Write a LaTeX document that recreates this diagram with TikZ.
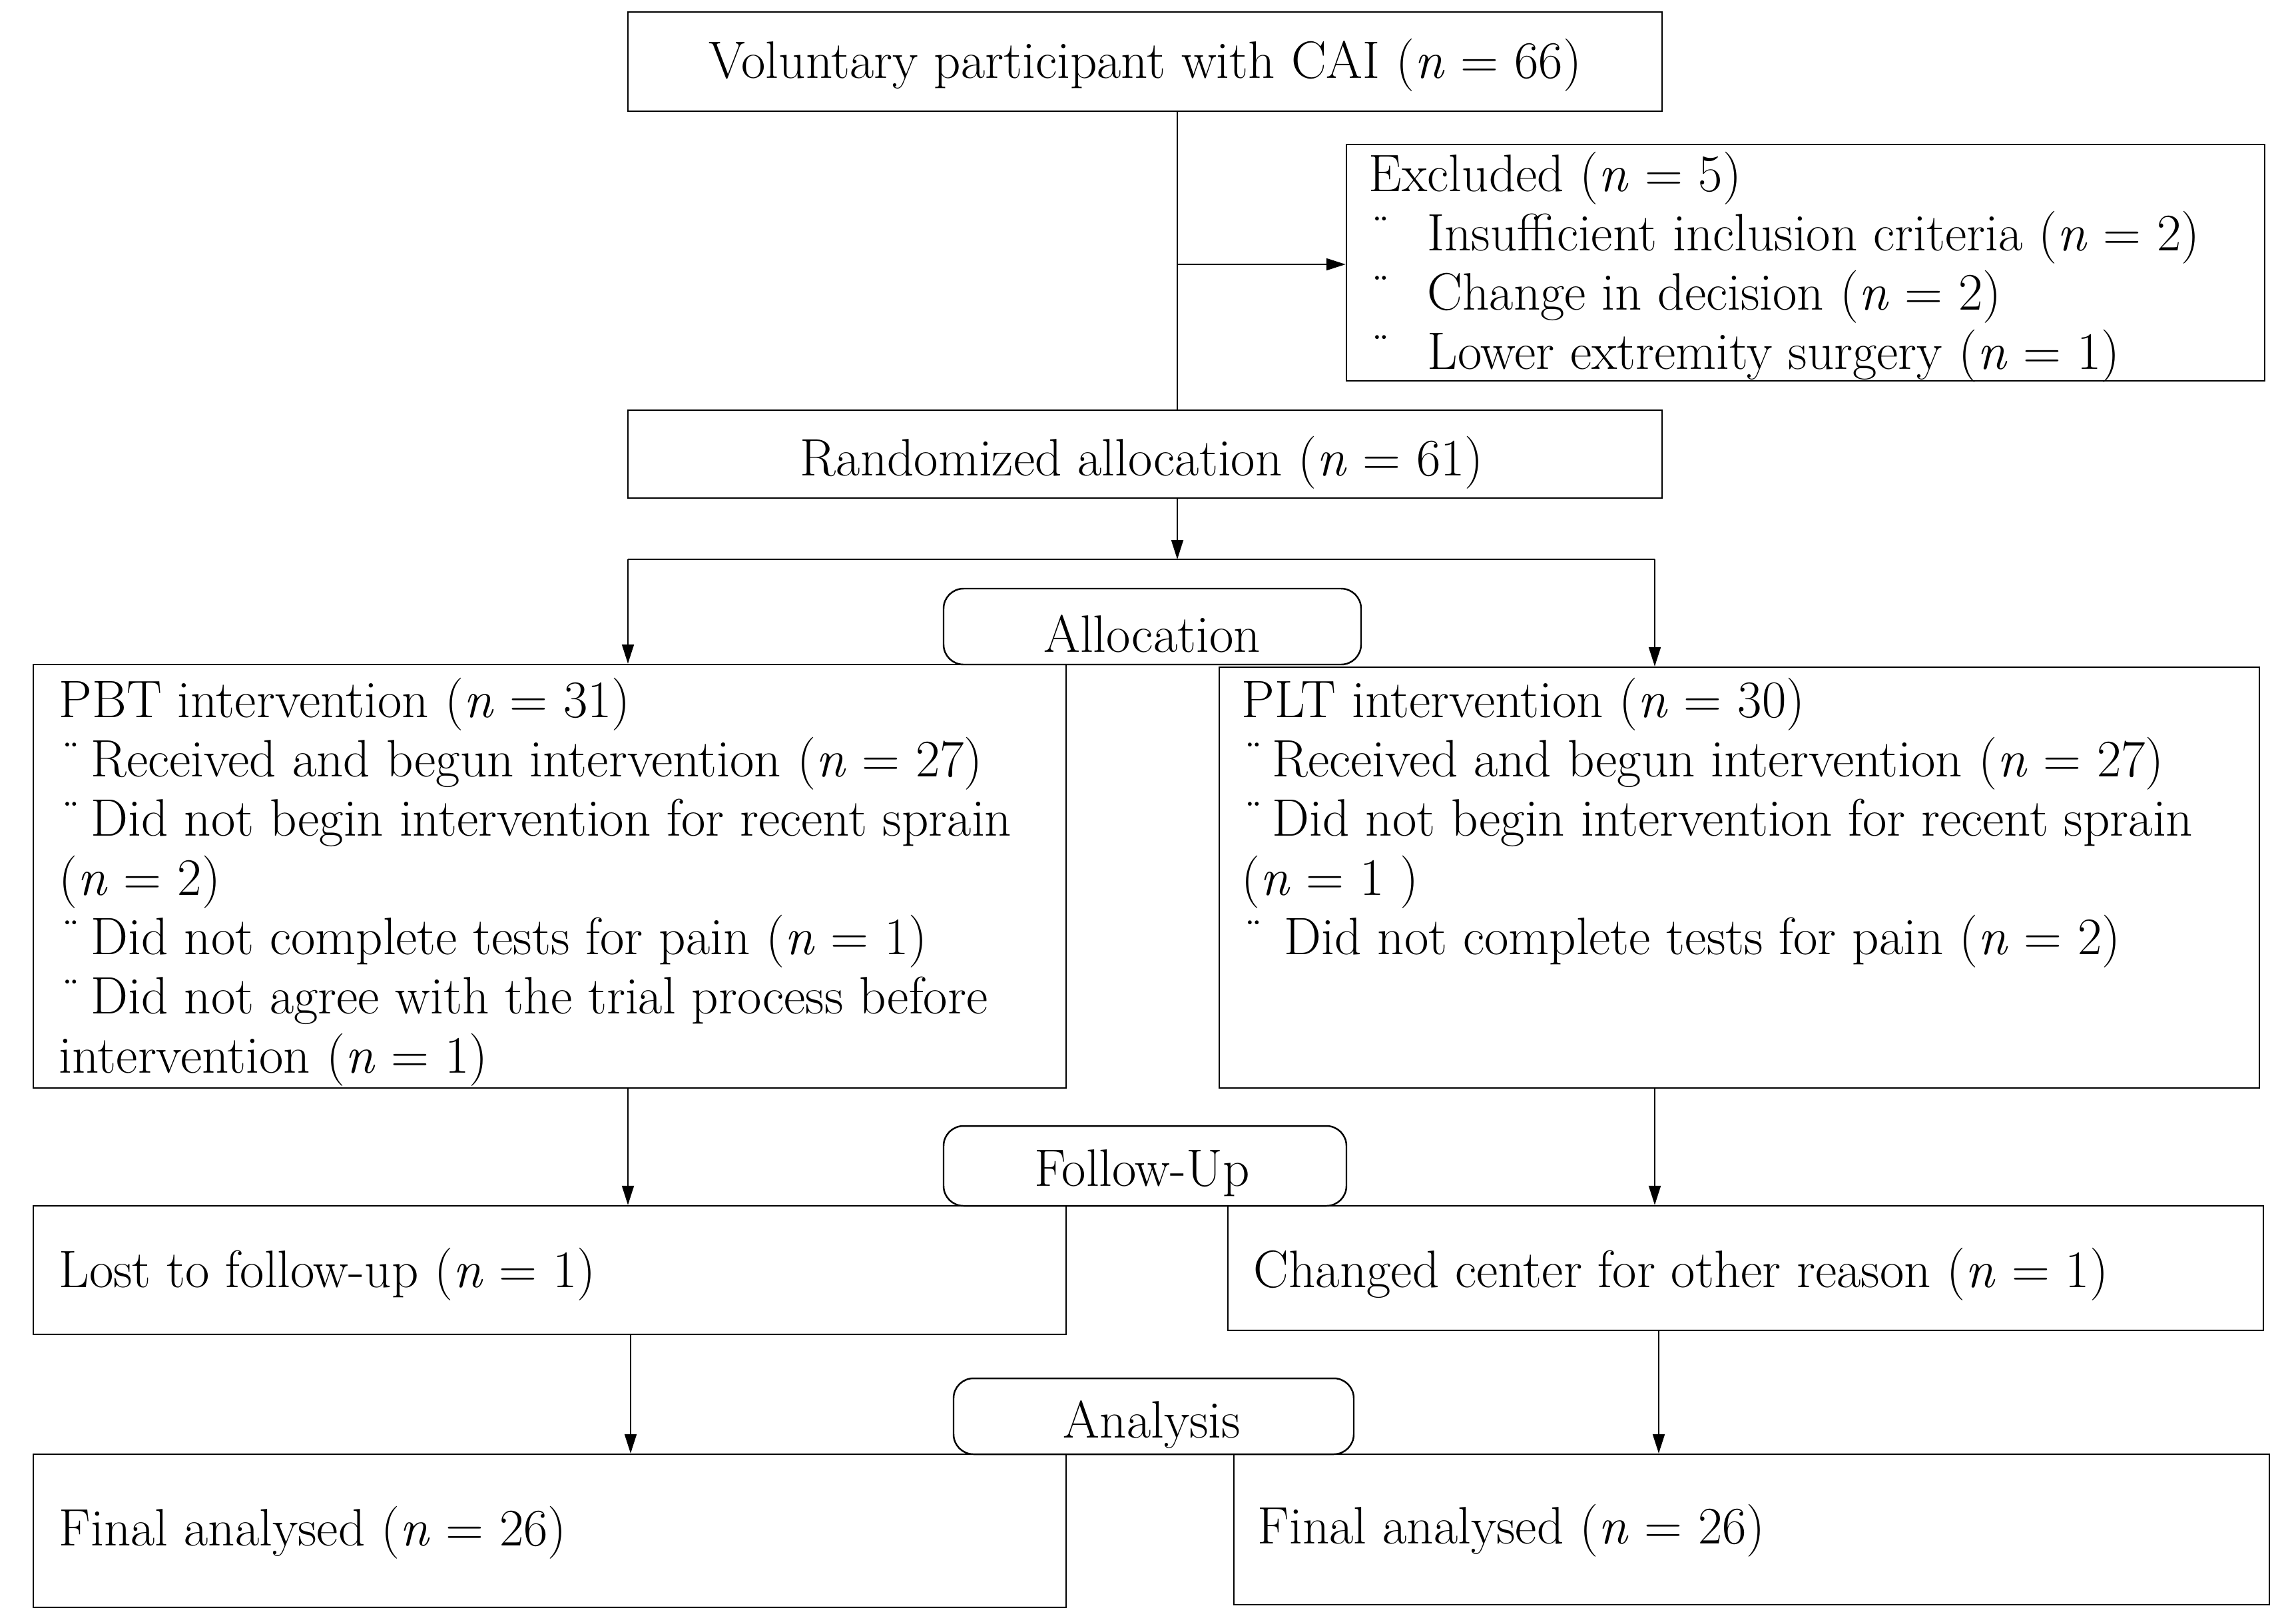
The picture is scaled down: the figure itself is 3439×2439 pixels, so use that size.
\documentclass[tikz,border=0pt]{standalone}
\usetikzlibrary{arrows.meta,fit}
\newcommand{\nvar}{\textit{n}}
\newcommand{\mybul}[1]{\makebox[#1][l]{¨}}
\tikzset{
  box/.style={draw, line width=0.7pt, inner sep=0pt},
  rbox/.style={box, rounded corners=3mm, fill=white},
  lbl/.style={inner sep=0pt, font=\fontsize{22.5}{25.3}\selectfont},
  txt/.style={inner sep=0pt, align=left, anchor=north west, font=\fontsize{22.5}{25.3}\selectfont},
  ln/.style={line width=0.6pt},
  arr/.style={line width=0.6pt, -{Triangle[length=2.9mm,width=1.8mm]}}
}
\begin{document}
\begin{tikzpicture}[x=0.1mm,y=-0.1mm]
\useasboundingbox (0,0) rectangle (3439,2439);
% box corners
\coordinate (t1) at (943,18);   \coordinate (t2) at (2496,167);
\coordinate (e1) at (2022,217); \coordinate (e2) at (3401,572);
\coordinate (r1) at (943,616);  \coordinate (r2) at (2496,748);
\coordinate (a1) at (1417,884); \coordinate (a2) at (2044,998);
\coordinate (p1) at (50,998);   \coordinate (p2) at (1601,1634);
\coordinate (q1) at (1831,1002);\coordinate (q2) at (3393,1634);
\coordinate (f1) at (1417,1691);\coordinate (f2) at (2022,1811);
\coordinate (l1) at (50,1811);  \coordinate (l2) at (1601,2004);
\coordinate (c1) at (1844,1811);\coordinate (c2) at (3399,1998);
\coordinate (n1) at (1432,2070);\coordinate (n2) at (2033,2184);
\coordinate (g1) at (50,2184);  \coordinate (g2) at (1601,2414);
\coordinate (h1) at (1853,2184);\coordinate (h2) at (3408,2410);

\node[rbox, fit=(a1)(a2)] (alloc) {};
\node[rbox, fit=(f1)(f2)] (follow) {};
\node[rbox, fit=(n1)(n2)] (analysis) {};

\node[box, fit=(t1)(t2)] (top) {};
\node[box, fit=(e1)(e2)] (excl) {};
\node[box, fit=(r1)(r2)] (rand) {};
\node[box, fit=(p1)(p2)] (pbt) {};
\node[box, fit=(q1)(q2)] (plt) {};
\node[box, fit=(l1)(l2)] (lost) {};
\node[box, fit=(c1)(c2)] (chg) {};
\node[box, fit=(g1)(g2)] (finl) {};
\node[box, fit=(h1)(h2)] (finr) {};

\node[lbl] (toptxt) at (1720,98) {Voluntary participant with CAI (\nvar{} = 66)};
\node[lbl] (randtxt) at (1715,695) {Randomized allocation (\nvar{} = 61)};
\node[lbl] (alloctxt) at (1730,952) {Allocation};
\node[lbl] (followtxt) at (1715,1762) {Follow-Up};
\node[lbl] (analysistxt) at (1730,2140) {Analysis};

\node[txt] (excltxt) at (2055,228) {Excluded (\nvar{} = 5)\\
\mybul{8.8mm}Insufficient inclusion criteria (\nvar{} = 2)\\
\mybul{8.8mm}Change in decision (\nvar{} = 2)\\
\mybul{8.8mm}Lower extremity surgery (\nvar{} = 1)};

\node[txt] (pbttxt) at (88,1018) {PBT intervention (\nvar{} = 31)\\
\mybul{4.8mm}Received and begun intervention (\nvar{} = 27)\\
\mybul{4.8mm}Did not begin intervention for recent sprain\\
(\nvar{} = 2)\\
\mybul{4.8mm}Did not complete tests for pain (\nvar{} = 1)\\
\mybul{4.8mm}Did not agree with the trial process before\\
intervention (\nvar{} = 1)};

\node[txt] (plttxt) at (1864,1018) {PLT intervention (\nvar{} = 30)\\
\mybul{4.6mm}Received and begun intervention (\nvar{} = 27)\\
\mybul{4.6mm}Did not begin intervention for recent sprain\\
(\nvar{} = 1 )\\
\mybul{6.4mm}Did not complete tests for pain (\nvar{} = 2)};

\node[txt, anchor=west] (losttxt) at (88,1914) {Lost to follow-up (\nvar{} = 1)};
\node[txt, anchor=west] (chgtxt) at (1882,1914) {Changed center for other reason (\nvar{} = 1)};
\node[txt, anchor=west] (finltxt) at (88,2302) {Final analysed (\nvar{} = 26)};
\node[txt, anchor=west] (finrtxt) at (1888,2299) {Final analysed (\nvar{} = 26)};

% connectors
\coordinate (split) at (1768,397);
\coordinate (hub) at (1768,840);
\coordinate (hl) at (943,840);
\coordinate (hr) at (2485,840);
\draw[ln] (top.south -| split) -- (rand.north -| split);
\draw[arr] (split) -- (split -| excl.west);
\draw[arr] (rand.south -| hub) -- (hub);
\draw[ln] (hl) -- (hr);
\draw[arr] (hl) -- (hl |- pbt.north);
\draw[arr] (hr) -- (hr |- plt.north);
\draw[arr] (pbt.south -| hl) -- (lost.north -| hl);
\draw[arr] (plt.south -| hr) -- (chg.north -| hr);
\coordinate (vl) at (947,0);
\coordinate (vr) at (2491,0);
\draw[arr] (lost.south -| vl) -- (finl.north -| vl);
\draw[arr] (chg.south -| vr) -- (finr.north -| vr);
\end{tikzpicture}
\end{document}
